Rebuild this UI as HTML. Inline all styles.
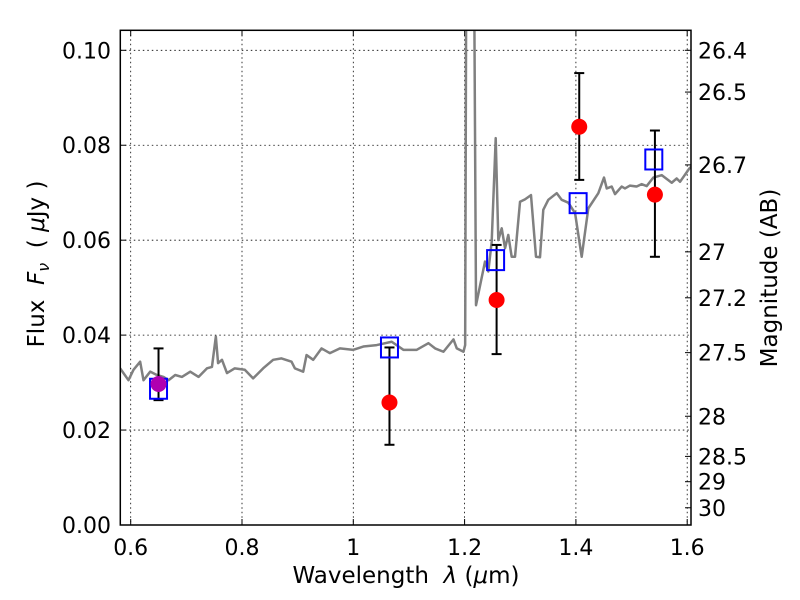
<!DOCTYPE html>
<html><head><meta charset="utf-8"><style>body{margin:0;background:#fff}svg{display:block}text{font-family:"DejaVu Sans","Liberation Sans",sans-serif}</style></head>
<body>
<svg id="chart" width="800" height="600" viewBox="0 0 800 600"></svg>
<script>
const xTicks=[0.6,0.8,1.0,1.2,1.4,1.6];
const xTickLabels=["0.6","0.8","1","1.2","1.4","1.6"];
const yTicks=[0,0.02,0.04,0.06,0.08,0.10];
const yTickLabels=["0.00","0.02","0.04","0.06","0.08","0.10"];
const magTicks=[26.4,26.5,26.7,27,27.2,27.5,28,28.5,29,30];
const magTickLabels=["26.4","26.5","26.7","27","27.2","27.5","28","28.5","29","30"];
const specLam=[0.581,0.596,0.605,0.617,0.623,0.635,0.647,0.659,0.668,0.680,0.692,0.707,0.722,0.737,0.746,0.753,0.757,0.764,0.773,0.787,0.805,0.820,0.838,0.856,0.871,0.889,0.895,0.910,0.916,0.928,0.943,0.958,0.976,1.000,1.018,1.042,1.069,1.090,1.114,1.135,1.147,1.162,1.180,1.186,1.198,1.201,1.205,1.213,1.2205,1.2367,1.2426,1.2487,1.2559,1.2606,1.2667,1.2727,1.2785,1.2846,1.2906,1.2996,1.3085,1.3193,1.3283,1.3355,1.3414,1.3504,1.3655,1.3745,1.3864,1.3985,1.4104,1.4223,1.4403,1.4505,1.4554,1.4643,1.4703,1.4823,1.4882,1.4972,1.5092,1.5182,1.5272,1.5392,1.5542,1.5722,1.5811,1.5871,1.6038,1.61];
const specFlux=[0.0330,0.0305,0.0327,0.0344,0.0305,0.0323,0.0316,0.0312,0.0305,0.0316,0.0312,0.0323,0.0312,0.0330,0.0333,0.0397,0.0341,0.0348,0.0320,0.0330,0.0327,0.0309,0.0330,0.0348,0.0351,0.0344,0.0330,0.0323,0.0358,0.0348,0.0372,0.0362,0.0372,0.0369,0.0376,0.0379,0.0386,0.0369,0.0369,0.0383,0.0372,0.0365,0.0391,0.0372,0.0365,0.0379,0.2,0.2,0.0463,0.0555,0.0534,0.0597,0.0815,0.0600,0.0625,0.0583,0.0611,0.0565,0.0565,0.0681,0.0686,0.0695,0.0565,0.0564,0.0664,0.0685,0.0699,0.0685,0.0679,0.0657,0.0565,0.0667,0.0699,0.0732,0.0709,0.0713,0.0697,0.0713,0.0709,0.0715,0.0713,0.0718,0.0714,0.0732,0.0737,0.0721,0.0730,0.0723,0.0751,0.0758];
const modelLam=[0.650,1.065,1.2557,1.404,1.540];
const modelFlux=[0.0287,0.0374,0.0558,0.0678,0.0770];
const obsLam=[0.650,1.065,1.2575,1.406,1.542];
const obsFlux=[0.0297,0.0258,0.0474,0.0839,0.0696];
const obsLo=[0.0263,0.0169,0.0360,0.0727,0.0565];
const obsHi=[0.0372,0.0374,0.0590,0.0952,0.0831];
const obsColor=["#b000b0","red","red","red","red"];

const L=120.3,R=691,T=30.3,B=525;
const x0=0.6-(130.7-L)/556.5, x1=x0+(R-L)/556.5;
const X=v=>L+(v-x0)/(x1-x0)*(R-L);
const Y=v=>B-v*4747;
const svg=document.getElementById('chart');
const NS='http://www.w3.org/2000/svg';
function mk(t,a,p){const e=document.createElementNS(NS,t);for(const k in a)e.setAttribute(k,a[k]);(p||svg).appendChild(e);return e;}
const defs=mk('defs',{});const cp=mk('clipPath',{id:'clip'},defs);mk('rect',{x:L,y:T,width:R-L,height:B-T},cp);
xTicks.forEach((v,i)=>{
  const g=mk('line',{x1:X(v),x2:X(v),y1:T,y2:B,stroke:'#000','stroke-width':0.8,'stroke-dasharray':'1.5,3'});
  
  
  mk('line',{x1:X(v),x2:X(v),y1:B,y2:B-6,stroke:'#000'});
  mk('line',{x1:X(v),x2:X(v),y1:T,y2:T+6,stroke:'#000'});
  const t=mk('text',{x:X(v),y:555,'font-size':22,'text-anchor':'middle'});t.textContent=xTickLabels[i];
  
  
});
yTicks.forEach((v,i)=>{
  const g=mk('line',{x1:L,x2:R,y1:Y(v),y2:Y(v),stroke:'#000','stroke-width':0.8,'stroke-dasharray':'1.5,3'});
  
  
  mk('line',{x1:L,x2:L+6,y1:Y(v),y2:Y(v),stroke:'#000'});
  const t=mk('text',{x:111,y:Y(v)+8,'font-size':22,'text-anchor':'end'});t.textContent=yTickLabels[i];
  
  
});
magTicks.forEach((m,i)=>{
  const y=Y(Math.pow(10,(23.9-m)/2.5));
  mk('line',{x1:R,x2:R-6,y1:y,y2:y,stroke:'#000'});
  const t=mk('text',{x:698,y:y+8,'font-size':22});t.textContent=magTickLabels[i];
  
  
});
const sp=mk('polyline',{points:specLam.map((l,i)=>X(l)+','+Y(specFlux[i])).join(' '),fill:'none',stroke:'#808080','stroke-width':2.5,'stroke-linejoin':'round','clip-path':'url(#clip)'});


obsLam.forEach((l,i)=>{
  const x=X(l);
  const eb=mk('g',{stroke:'#000','stroke-width':2});
  
  
  mk('line',{x1:x,x2:x,y1:Y(obsLo[i]),y2:Y(obsHi[i])},eb);
  mk('line',{x1:x-5,x2:x+5,y1:Y(obsLo[i]),y2:Y(obsLo[i])},eb);
  mk('line',{x1:x-5,x2:x+5,y1:Y(obsHi[i]),y2:Y(obsHi[i])},eb);
});
modelLam.forEach((l,i)=>{
  const r=mk('rect',{x:X(l)-8.5,y:Y(modelFlux[i])-10,width:17,height:20,fill:'none',stroke:'#0000ff','stroke-width':2});
  
  
});
obsLam.forEach((l,i)=>{
  const c=mk('circle',{cx:X(l),cy:Y(obsFlux[i]),r:8,fill:obsColor[i]});
  
  
});
const fr=mk('rect',{x:L,y:T,width:R-L,height:B-T,fill:'none',stroke:'#000','stroke-width':1.5});


</script>
<svg style="position:absolute;left:0;top:0" width="800" height="600">
<text x="406" y="583" font-size="23" text-anchor="middle" font-family="DejaVu Sans, sans-serif">Wavelength&#160;&#160;<tspan font-style="italic">λ</tspan>&#160;(<tspan font-style="italic">μ</tspan>m)</text>
<text transform="translate(44,264) rotate(-90)" font-size="23" text-anchor="middle" font-family="DejaVu Sans, sans-serif">Flux&#160;&#160;<tspan font-style="italic">F</tspan><tspan font-style="italic" font-size="16" dy="5">ν</tspan><tspan dy="-5">&#160;&#160;(&#160;</tspan><tspan font-style="italic">μ</tspan>Jy&#160;)</text>
<text transform="translate(777,278) rotate(-90)" font-size="23" text-anchor="middle" font-family="DejaVu Sans, sans-serif">Magnitude (AB)</text>
</svg>
</body></html>
